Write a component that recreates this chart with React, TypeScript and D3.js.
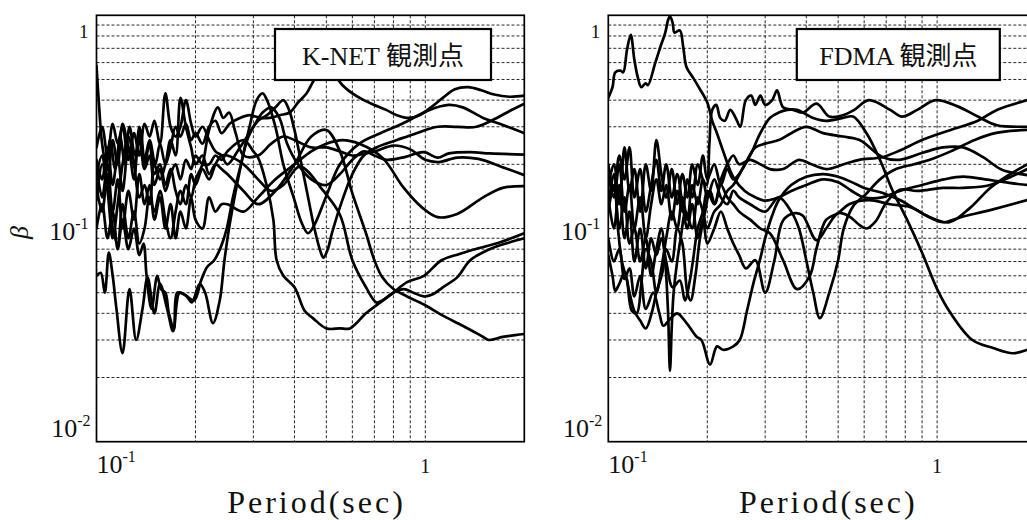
import React from "react";
import * as d3 from "d3";

type Pt = [number, number];

// axis ranges and grid positions
const PERIOD_DOMAIN: [number, number] = [0.1, 2.0];
const BETA_DOMAIN: [number, number] = [0.01, 1];
const PERIOD_GRID = [0.2, 0.3, 0.4, 0.5, 0.6, 0.7, 0.8, 0.9, 1.0];
const BETA_GRID = [0.02, 0.03, 0.04, 0.05, 0.06, 0.07, 0.08, 0.09, 0.1, 0.2, 0.3, 0.4, 0.5, 0.6, 0.7, 0.8, 0.9];

const PANEL_TITLES = ["K-NET 観測点", "FDMA 観測点"];
const X_AXIS_TITLE = "Period(sec)";
const Y_AXIS_TITLE = "β";

// K-NET stations: [period (s), beta]
const KNET_1: Pt[] = [[0.100,0.58],[0.102,0.36],[0.104,0.25],[0.107,0.2],[0.110,0.26],[0.114,0.19],[0.118,0.27],[0.122,0.2],[0.126,0.3],[0.131,0.22],[0.136,0.29],[0.140,0.21],[0.145,0.26],[0.151,0.2],[0.156,0.25],[0.162,0.2],[0.168,0.24],[0.174,0.3],[0.180,0.27],[0.187,0.31],[0.194,0.26],[0.200,0.28],[0.210,0.25],[0.220,0.3],[0.230,0.32],[0.240,0.28],[0.254,0.31],[0.273,0.33],[0.292,0.34],[0.314,0.33],[0.336,0.33],[0.361,0.34],[0.387,0.35],[0.410,0.39],[0.435,0.43],[0.460,0.5],[0.490,0.56],[0.520,0.54],[0.560,0.47],[0.600,0.43],[0.650,0.40],[0.700,0.38],[0.760,0.36],[0.820,0.34],[0.890,0.33],[0.960,0.34],[1.04,0.37],[1.13,0.41],[1.23,0.45],[1.35,0.46],[1.48,0.445],[1.62,0.425],[1.80,0.415],[2.0,0.42]];
const KNET_2: Pt[] = [[0.100,0.1],[0.104,0.13],[0.108,0.09],[0.112,0.12],[0.116,0.08],[0.120,0.11],[0.125,0.08],[0.130,0.1],[0.135,0.075],[0.139,0.085],[0.142,0.06],[0.147,0.042],[0.153,0.06],[0.157,0.052],[0.162,0.05],[0.166,0.04],[0.172,0.034],[0.176,0.05],[0.185,0.049],[0.198,0.046],[0.208,0.057],[0.217,0.066],[0.228,0.071],[0.239,0.082],[0.249,0.1],[0.260,0.14],[0.275,0.2],[0.290,0.27],[0.310,0.32],[0.330,0.34],[0.350,0.37],[0.370,0.40],[0.385,0.36],[0.400,0.29],[0.420,0.2],[0.440,0.14],[0.460,0.1],[0.480,0.078],[0.490,0.073],[0.505,0.08],[0.520,0.095],[0.550,0.126],[0.600,0.18],[0.650,0.22],[0.710,0.24],[0.820,0.26],[0.940,0.28],[1.09,0.3],[1.25,0.3],[1.43,0.3],[1.65,0.33],[1.80,0.355],[2.0,0.385]];
const KNET_3: Pt[] = [[0.100,0.06],[0.103,0.062],[0.106,0.05],[0.109,0.077],[0.112,0.06],[0.115,0.042],[0.120,0.026],[0.126,0.052],[0.132,0.03],[0.138,0.042],[0.143,0.059],[0.150,0.04],[0.156,0.055],[0.164,0.042],[0.171,0.033],[0.179,0.05],[0.188,0.048],[0.195,0.045],[0.206,0.055],[0.214,0.05],[0.226,0.036],[0.237,0.046],[0.245,0.071],[0.254,0.104],[0.273,0.188],[0.292,0.3],[0.307,0.4],[0.320,0.43],[0.330,0.4],[0.350,0.3],[0.370,0.2],[0.400,0.136],[0.420,0.107],[0.440,0.095],[0.460,0.104],[0.500,0.142],[0.550,0.2],[0.630,0.25],[0.730,0.28],[0.850,0.31],[1.03,0.36],[1.18,0.38],[1.30,0.37],[1.50,0.33],[1.73,0.305],[2.0,0.28]];
const KNET_4: Pt[] = [[0.100,0.24],[0.104,0.3],[0.108,0.22],[0.112,0.31],[0.116,0.25],[0.120,0.3],[0.125,0.21],[0.130,0.28],[0.135,0.22],[0.140,0.31],[0.145,0.27],[0.150,0.32],[0.156,0.25],[0.162,0.43],[0.168,0.3],[0.174,0.27],[0.180,0.3],[0.187,0.4],[0.194,0.31],[0.200,0.27],[0.210,0.3],[0.220,0.26],[0.230,0.23],[0.240,0.22],[0.250,0.2],[0.273,0.24],[0.300,0.3],[0.320,0.35],[0.340,0.37],[0.360,0.33],[0.380,0.25],[0.410,0.2],[0.450,0.17],[0.500,0.16],[0.550,0.18],[0.600,0.21],[0.650,0.23],[0.700,0.22],[0.760,0.21],[0.850,0.215],[0.990,0.228],[1.09,0.215],[1.18,0.225],[1.37,0.228],[1.57,0.225],[2.0,0.222]];
const KNET_5: Pt[] = [[0.100,0.21],[0.104,0.17],[0.108,0.24],[0.112,0.16],[0.116,0.22],[0.120,0.15],[0.125,0.24],[0.130,0.17],[0.135,0.3],[0.140,0.2],[0.145,0.25],[0.150,0.18],[0.156,0.2],[0.162,0.16],[0.168,0.19],[0.174,0.15],[0.180,0.13],[0.187,0.16],[0.194,0.14],[0.200,0.17],[0.210,0.2],[0.220,0.29],[0.234,0.37],[0.243,0.33],[0.253,0.35],[0.265,0.28],[0.280,0.22],[0.310,0.22],[0.340,0.25],[0.370,0.27],[0.400,0.26],[0.450,0.24],[0.500,0.24],[0.550,0.23],[0.600,0.22],[0.700,0.23],[0.800,0.245],[0.900,0.235],[1.00,0.21],[1.10,0.205],[1.25,0.215],[1.45,0.212],[1.70,0.195],[2.0,0.178]];
const KNET_6: Pt[] = [[0.100,0.195],[0.104,0.14],[0.108,0.2],[0.112,0.12],[0.116,0.17],[0.120,0.1],[0.125,0.15],[0.130,0.11],[0.135,0.18],[0.140,0.13],[0.145,0.16],[0.150,0.11],[0.156,0.14],[0.162,0.1],[0.168,0.13],[0.174,0.09],[0.180,0.12],[0.187,0.1],[0.194,0.14],[0.200,0.11],[0.210,0.1],[0.220,0.14],[0.230,0.12],[0.240,0.13],[0.250,0.13],[0.280,0.12],[0.310,0.14],[0.350,0.17],[0.400,0.2],[0.450,0.23],[0.500,0.25],[0.560,0.26],[0.630,0.25],[0.740,0.215],[0.860,0.155],[0.980,0.125],[1.09,0.113],[1.25,0.117],[1.50,0.14],[1.72,0.155],[2.0,0.158]];
const KNET_7: Pt[] = [[0.100,0.178],[0.104,0.22],[0.108,0.16],[0.112,0.26],[0.116,0.2],[0.120,0.31],[0.125,0.24],[0.130,0.2],[0.135,0.26],[0.140,0.19],[0.145,0.22],[0.150,0.16],[0.156,0.19],[0.162,0.15],[0.168,0.18],[0.174,0.2],[0.180,0.17],[0.187,0.21],[0.194,0.19],[0.200,0.22],[0.210,0.2],[0.220,0.2],[0.230,0.22],[0.240,0.21],[0.250,0.23],[0.280,0.26],[0.300,0.23],[0.310,0.215],[0.330,0.157],[0.345,0.11],[0.353,0.071],[0.370,0.06],[0.400,0.053],[0.430,0.041],[0.455,0.038],[0.500,0.034],[0.550,0.034],[0.590,0.034],[0.660,0.04],[0.730,0.045],[0.800,0.05],[0.880,0.056],[0.990,0.06],[1.12,0.071],[1.27,0.076],[1.46,0.081],[1.68,0.086],[2.0,0.095]];
const KNET_8: Pt[] = [[0.100,0.157],[0.104,0.12],[0.108,0.18],[0.112,0.1],[0.116,0.085],[0.120,0.13],[0.125,0.09],[0.130,0.12],[0.135,0.085],[0.140,0.1],[0.145,0.14],[0.150,0.12],[0.156,0.15],[0.162,0.11],[0.168,0.09],[0.174,0.12],[0.180,0.15],[0.187,0.13],[0.194,0.18],[0.200,0.16],[0.210,0.19],[0.220,0.17],[0.230,0.2],[0.240,0.22],[0.250,0.22],[0.280,0.2],[0.310,0.17],[0.340,0.15],[0.370,0.16],[0.415,0.195],[0.490,0.15],[0.550,0.116],[0.600,0.071],[0.660,0.053],[0.710,0.045],[0.740,0.046],[0.800,0.05],[0.860,0.052],[0.920,0.05],[0.990,0.048],[1.05,0.049],[1.13,0.053],[1.25,0.059],[1.37,0.071],[1.57,0.08],[1.80,0.086],[2.0,0.09]];
const KNET_9: Pt[] = [[0.100,0.136],[0.104,0.2],[0.108,0.15],[0.112,0.09],[0.116,0.13],[0.120,0.2],[0.125,0.27],[0.130,0.2],[0.135,0.14],[0.140,0.16],[0.145,0.13],[0.150,0.2],[0.156,0.17],[0.162,0.2],[0.168,0.26],[0.174,0.22],[0.180,0.41],[0.187,0.3],[0.194,0.24],[0.200,0.2],[0.210,0.22],[0.220,0.18],[0.230,0.2],[0.240,0.19],[0.250,0.18],[0.280,0.15],[0.310,0.13],[0.350,0.15],[0.400,0.2],[0.450,0.27],[0.500,0.29],[0.550,0.23],[0.600,0.146],[0.660,0.095],[0.700,0.071],[0.740,0.059],[0.800,0.052],[0.880,0.048],[0.990,0.044],[1.13,0.039],[1.30,0.035],[1.50,0.031],[1.56,0.03],[1.72,0.031],[2.0,0.032]];

// FDMA stations: [period (s), beta]
const FDMA_1: Pt[] = [[0.100,0.18],[0.104,0.14],[0.108,0.2],[0.112,0.12],[0.116,0.16],[0.120,0.1],[0.125,0.14],[0.130,0.09],[0.135,0.13],[0.140,0.17],[0.145,0.13],[0.150,0.16],[0.156,0.11],[0.162,0.15],[0.168,0.12],[0.174,0.17],[0.180,0.14],[0.187,0.2],[0.194,0.17],[0.199,0.16],[0.203,0.25],[0.207,0.36],[0.213,0.38],[0.219,0.33],[0.226,0.32],[0.235,0.36],[0.244,0.33],[0.252,0.3],[0.262,0.4],[0.272,0.42],[0.280,0.38],[0.290,0.42],[0.300,0.38],[0.315,0.4],[0.326,0.445],[0.340,0.37],[0.365,0.36],[0.390,0.35],[0.430,0.385],[0.470,0.335],[0.517,0.34],[0.560,0.36],[0.620,0.40],[0.720,0.36],[0.780,0.335],[0.870,0.36],[0.990,0.40],[1.15,0.375],[1.33,0.335],[1.52,0.305],[1.88,0.30],[2.0,0.30]];
const FDMA_2: Pt[] = [[0.100,0.16],[0.104,0.2],[0.108,0.13],[0.112,0.24],[0.116,0.15],[0.120,0.19],[0.125,0.12],[0.130,0.2],[0.135,0.15],[0.140,0.26],[0.145,0.18],[0.150,0.14],[0.156,0.19],[0.162,0.13],[0.168,0.18],[0.174,0.14],[0.180,0.2],[0.187,0.16],[0.194,0.22],[0.200,0.17],[0.210,0.2],[0.220,0.16],[0.230,0.19],[0.240,0.17],[0.250,0.18],[0.270,0.22],[0.290,0.28],[0.310,0.33],[0.330,0.35],[0.350,0.36],[0.375,0.36],[0.420,0.33],[0.460,0.32],[0.517,0.33],[0.555,0.335],[0.610,0.28],[0.670,0.21],[0.730,0.152],[0.810,0.11],[0.900,0.077],[1.00,0.052],[1.10,0.04],[1.28,0.03],[1.48,0.0275],[1.70,0.026],[1.88,0.027],[2.0,0.028]];
const FDMA_3: Pt[] = [[0.100,0.14],[0.104,0.1],[0.108,0.16],[0.112,0.09],[0.116,0.12],[0.120,0.07],[0.125,0.1],[0.130,0.065],[0.135,0.09],[0.140,0.075],[0.145,0.09],[0.150,0.07],[0.157,0.053],[0.165,0.057],[0.171,0.046],[0.177,0.057],[0.181,0.071],[0.187,0.1],[0.194,0.12],[0.200,0.15],[0.210,0.13],[0.220,0.17],[0.230,0.2],[0.240,0.22],[0.250,0.2],[0.270,0.21],[0.290,0.2],[0.310,0.19],[0.340,0.19],[0.380,0.21],[0.415,0.2],[0.460,0.19],[0.520,0.2],[0.580,0.21],[0.680,0.216],[0.770,0.232],[0.900,0.26],[1.10,0.29],[1.33,0.32],[1.52,0.36],[1.88,0.40],[2.0,0.41]];
const FDMA_4: Pt[] = [[0.100,0.12],[0.104,0.16],[0.108,0.1],[0.112,0.14],[0.116,0.085],[0.120,0.1],[0.125,0.07],[0.130,0.09],[0.135,0.06],[0.140,0.08],[0.145,0.1],[0.149,0.07],[0.152,0.04],[0.154,0.0215],[0.156,0.035],[0.158,0.05],[0.162,0.07],[0.166,0.09],[0.172,0.12],[0.180,0.1],[0.187,0.14],[0.194,0.12],[0.200,0.1],[0.210,0.12],[0.220,0.13],[0.230,0.15],[0.240,0.16],[0.260,0.2],[0.280,0.24],[0.300,0.25],[0.330,0.26],[0.360,0.28],[0.400,0.3],[0.450,0.28],[0.517,0.27],[0.581,0.26],[0.683,0.216],[0.768,0.21],[0.900,0.226],[1.04,0.24],[1.20,0.24],[1.38,0.216],[1.58,0.188],[1.88,0.178],[2.0,0.176]];
const FDMA_5: Pt[] = [[0.100,0.2],[0.104,0.15],[0.108,0.22],[0.112,0.17],[0.116,0.24],[0.120,0.14],[0.125,0.19],[0.130,0.12],[0.135,0.16],[0.140,0.21],[0.145,0.15],[0.150,0.2],[0.156,0.14],[0.162,0.18],[0.168,0.13],[0.174,0.1],[0.180,0.13],[0.187,0.09],[0.194,0.11],[0.200,0.085],[0.210,0.1],[0.220,0.12],[0.230,0.1],[0.240,0.085],[0.250,0.075],[0.262,0.065],[0.280,0.071],[0.300,0.05],[0.320,0.071],[0.340,0.109],[0.370,0.118],[0.390,0.115],[0.430,0.088],[0.460,0.1],[0.500,0.118],[0.540,0.114],[0.580,0.104],[0.610,0.1],[0.650,0.108],[0.700,0.132],[0.770,0.152],[0.870,0.15],[1.04,0.155],[1.20,0.155],[1.45,0.16],[1.88,0.19],[2.0,0.2]];
const FDMA_6: Pt[] = [[0.100,0.075],[0.103,0.06],[0.105,0.051],[0.108,0.055],[0.112,0.062],[0.116,0.05],[0.120,0.041],[0.125,0.037],[0.130,0.034],[0.136,0.041],[0.140,0.05],[0.146,0.062],[0.150,0.08],[0.156,0.07],[0.162,0.1],[0.168,0.085],[0.174,0.05],[0.178,0.046],[0.184,0.06],[0.190,0.09],[0.197,0.12],[0.204,0.15],[0.211,0.13],[0.220,0.16],[0.230,0.14],[0.240,0.13],[0.250,0.12],[0.270,0.11],[0.290,0.1],[0.310,0.095],[0.340,0.071],[0.375,0.052],[0.410,0.06],[0.430,0.081],[0.460,0.11],[0.500,0.118],[0.540,0.13],[0.620,0.136],[0.720,0.13],[0.830,0.126],[0.950,0.113],[1.09,0.107],[1.26,0.125],[1.45,0.155],[1.67,0.18],[1.88,0.2],[2.0,0.21]];
const FDMA_7: Pt[] = [[0.100,0.09],[0.104,0.07],[0.108,0.08],[0.112,0.058],[0.116,0.065],[0.120,0.048],[0.125,0.06],[0.130,0.042],[0.137,0.05],[0.143,0.04],[0.147,0.035],[0.155,0.038],[0.162,0.04],[0.173,0.036],[0.186,0.031],[0.192,0.03],[0.204,0.023],[0.214,0.028],[0.223,0.027],[0.240,0.028],[0.251,0.03],[0.264,0.041],[0.276,0.055],[0.289,0.071],[0.300,0.09],[0.315,0.115],[0.330,0.136],[0.360,0.16],[0.400,0.175],[0.450,0.18],[0.500,0.175],[0.550,0.165],[0.600,0.155],[0.680,0.147],[0.770,0.136],[0.900,0.118],[1.04,0.107],[1.18,0.113],[1.45,0.122],[1.88,0.136],[2.0,0.14]];
const FDMA_8: Pt[] = [[0.100,0.13],[0.104,0.18],[0.107,0.1],[0.110,0.07],[0.114,0.057],[0.118,0.041],[0.122,0.04],[0.126,0.055],[0.130,0.08],[0.135,0.07],[0.140,0.05],[0.145,0.065],[0.150,0.09],[0.156,0.12],[0.162,0.1],[0.168,0.14],[0.174,0.11],[0.180,0.16],[0.187,0.13],[0.194,0.17],[0.200,0.14],[0.210,0.17],[0.220,0.14],[0.230,0.13],[0.240,0.15],[0.250,0.14],[0.270,0.13],[0.300,0.12],[0.330,0.14],[0.360,0.12],[0.380,0.1],[0.400,0.071],[0.420,0.05],[0.440,0.038],[0.470,0.05],[0.500,0.071],[0.520,0.1],[0.555,0.127],[0.610,0.146],[0.670,0.17],[0.750,0.19],[0.850,0.2],[0.950,0.21],[1.10,0.23],[1.30,0.26],[1.50,0.28],[1.88,0.29],[2.0,0.29]];
const FDMA_9: Pt[] = [[0.100,0.41],[0.103,0.46],[0.105,0.54],[0.109,0.55],[0.111,0.54],[0.114,0.69],[0.117,0.81],[0.120,0.62],[0.123,0.51],[0.126,0.46],[0.130,0.48],[0.132,0.47],[0.139,0.6],[0.144,0.71],[0.149,0.83],[0.152,0.95],[0.154,0.99],[0.157,0.92],[0.159,0.83],[0.165,0.85],[0.169,0.71],[0.173,0.57],[0.181,0.51],[0.190,0.45],[0.200,0.39],[0.207,0.32],[0.214,0.28],[0.223,0.233],[0.240,0.174],[0.260,0.15],[0.280,0.14],[0.300,0.135],[0.330,0.14],[0.360,0.15],[0.400,0.16],[0.450,0.17],[0.500,0.165],[0.550,0.15],[0.600,0.14],[0.680,0.14],[0.770,0.15],[0.900,0.16],[1.05,0.17],[1.20,0.175],[1.40,0.17],[1.60,0.165],[1.88,0.16],[2.0,0.16]];

const KNET_SERIES = [KNET_1, KNET_2, KNET_3, KNET_4, KNET_5, KNET_6, KNET_7, KNET_8, KNET_9];
const FDMA_SERIES = [FDMA_1, FDMA_2, FDMA_3, FDMA_4, FDMA_5, FDMA_6, FDMA_7, FDMA_8, FDMA_9];

const W = 1027;
const H = 520;
const PLOT_TOP = 15.3;
const PLOT_BOTTOM = 441.7;
const PLOT_W = 427.8;
const SERIF = "'Liberation Serif', 'Times New Roman', serif";
const TITLE_FONT = "'Liberation Serif', 'Noto Sans CJK JP', serif";

const PANELS = [
  { left: 96.5, series: KNET_SERIES, title: PANEL_TITLES[0], box: { dx: 178.5, w: 216 }, yTitle: true },
  { left: 608.3, series: FDMA_SERIES, title: PANEL_TITLES[1], box: { dx: 188.5, w: 203 }, yTitle: false },
];

function Panel({ idx, left, series, title, box, yTitle }: any) {
  const x = d3.scaleLog().domain(PERIOD_DOMAIN).range([left, left + PLOT_W]);
  const y = d3.scaleLog().domain(BETA_DOMAIN).range([PLOT_BOTTOM, PLOT_TOP]);
  const line = d3
    .line<Pt>()
    .x((d) => x(d[0]))
    .y((d) => y(d[1]))
    .curve(d3.curveCatmullRom.alpha(0.5));
  const clipId = `plot-clip-${idx}`;
  const x0 = x(PERIOD_DOMAIN[0]);
  const x1 = x(PERIOD_DOMAIN[1]);
  const labelRight = left - 8;
  return (
    <g>
      <defs>
        <clipPath id={clipId}>
          <rect x={x0} y={PLOT_TOP} width={x1 - x0} height={PLOT_BOTTOM - PLOT_TOP} />
        </clipPath>
      </defs>
      <g stroke="#111" strokeWidth={0.9} strokeDasharray="3 2" fill="none">
        {PERIOD_GRID.map((p) => (
          <line key={`vx${p}`} x1={x(p)} x2={x(p)} y1={PLOT_TOP} y2={PLOT_BOTTOM} />
        ))}
        {BETA_GRID.map((b) => (
          <line key={`hy${b}`} x1={x0} x2={x1} y1={y(b)} y2={y(b)} />
        ))}
      </g>
      <g clipPath={`url(#${clipId})`} fill="none" stroke="#000" strokeWidth={2.7} strokeLinejoin="round" strokeLinecap="round">
        {series.map((s: Pt[], i: number) => (
          <path key={i} d={line(s) || ""} />
        ))}
      </g>
      <rect x={x0} y={PLOT_TOP} width={x1 - x0} height={PLOT_BOTTOM - PLOT_TOP} fill="none" stroke="#000" strokeWidth={1.7} />
      <rect x={left + box.dx} y={29} width={box.w} height={51} fill="#fff" stroke="#000" strokeWidth={2.2} />
      <text x={left + box.dx + box.w / 2} y={65} textAnchor="middle" fontFamily={TITLE_FONT} fontSize={26} fill="#111">
        {title}
      </text>
      {/* beta tick labels */}
      <g fontFamily={SERIF} fill="#111" textAnchor="end">
        <text x={labelRight} y={y(1) + 23} fontSize={19}>1</text>
        <text x={labelRight} y={y(0.1) + 11} fontSize={26}>
          10<tspan fontSize={16} dy={-11}>-1</tspan>
        </text>
        <text x={labelRight + 2} y={y(0.01) - 5} fontSize={26}>
          10<tspan fontSize={16} dy={-11}>-2</tspan>
        </text>
      </g>
      {/* period tick labels */}
      <g fontFamily={SERIF} fill="#111">
        <text x={x0} y={PLOT_BOTTOM + 31} fontSize={26}>
          10<tspan fontSize={16} dy={-11}>-1</tspan>
        </text>
        <text x={x(1)} y={PLOT_BOTTOM + 31} fontSize={20} textAnchor="middle">1</text>
      </g>
      <text x={left + 220} y={513} textAnchor="middle" fontFamily={SERIF} fontSize={32} letterSpacing={3} fill="#111">
        {X_AXIS_TITLE}
      </text>
      {yTitle && (
        <text transform={`translate(28, ${y(0.1) + 4}) rotate(-90)`} textAnchor="middle" fontFamily={SERIF} fontStyle="italic" fontSize={26} fill="#111">
          {Y_AXIS_TITLE}
        </text>
      )}
    </g>
  );
}

export default function App() {
  return (
    <svg width={W} height={H} viewBox={`0 0 ${W} ${H}`} style={{ position: "absolute", left: 0, top: 0, background: "#fff" }}>
      <rect width={W} height={H} fill="#fff" />
      {PANELS.map((p, i) => (
        <Panel key={i} idx={i} {...p} />
      ))}
    </svg>
  );
}
